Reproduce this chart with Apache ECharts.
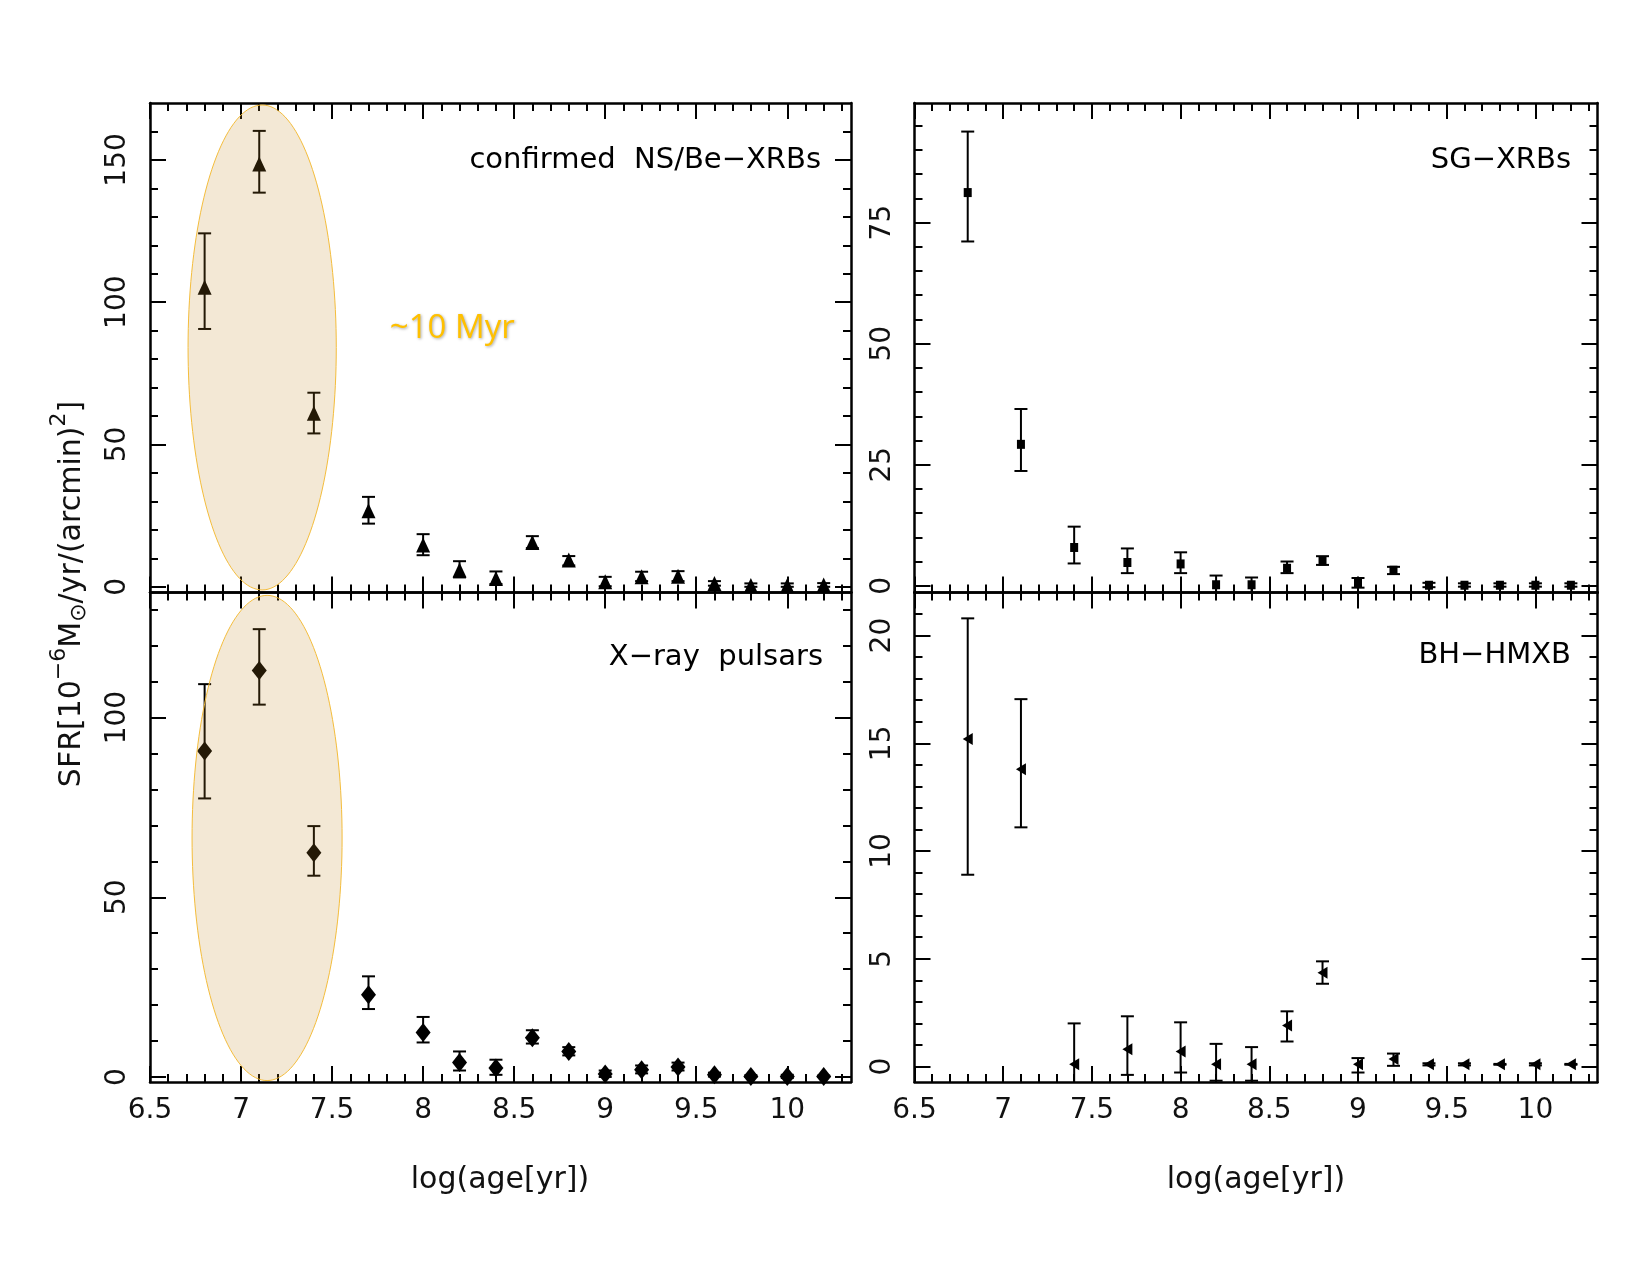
<!DOCTYPE html>
<html><head><meta charset="utf-8">
<script src="https://cdn.jsdelivr.net/npm/echarts@6.0.0/dist/echarts.min.js"></script>
<style>html,body{margin:0;padding:0;background:#fff}#c{width:1650px;height:1275px}</style>
</head><body><div id="c"></div>
<script>
// ---- data ----
const logAge = [6.8, 7.1, 7.4, 7.7, 8.0, 8.2, 8.4, 8.6, 8.8, 9.0, 9.2, 9.4, 9.6, 9.8, 10.0, 10.2];

const nsBeVal = [105.3, 148.6, 61.0, 26.7, 14.7, 5.9, 2.9, 15.6, 9.4, 1.8, 3.5, 3.7, 1.2, 0.5, 0.5, 0.6];
const nsBeHi  = [124.2, 160.2, 68.2, 31.6, 18.5, 9.0, 5.4, 17.8, 10.8, 3.5, 5.3, 5.5, 2.0, 1.2, 1.2, 1.3];
const nsBeLo  = [90.6, 138.5, 53.9, 22.2, 11.1, 3.3, 1.0, 13.6, 7.5, 0.2, 2.0, 2.0, 0.4, 0.0, 0.0, 0.0];

const sgVal = [81.2, 29.2, 7.9, 4.8, 4.5, 0.2, 0.2, 3.6, 5.1, 0.6, 3.2, 0.1, 0.1, 0.1, 0.1, 0.1];
const sgHi  = [93.8, 36.5, 12.2, 7.7, 6.9, 2.1, 1.7, 5.0, 6.1, 1.6, 3.9, 0.6, 0.5, 0.5, 0.5, 0.5];
const sgLo  = [71.1, 23.7, 4.6, 2.6, 2.6, -1.6, -1.6, 2.6, 4.3, -0.4, 2.4, -0.3, -0.2, -0.2, -0.2, -0.2];

const pulsarVal = [90.7, 113.1, 62.4, 22.9, 12.4, 4.0, 2.5, 10.9, 7.1, 0.8, 2.0, 2.8, 0.6, 0.1, 0.1, 0.1];
const pulsarHi  = [109.3, 124.6, 69.8, 28.0, 16.7, 7.1, 4.8, 13.0, 8.3, 1.8, 3.2, 4.0, 1.2, 0.5, 0.6, 0.4];
const pulsarLo  = [77.5, 103.6, 56.0, 18.9, 9.6, 1.8, 0.6, 9.3, 6.0, 0.0, 1.0, 1.8, 0.1, 0.0, -0.3, 0.0];

const bhVal = [15.2, 13.8, 0.1, 0.8, 0.7, 0.1, 0.1, 1.9, 4.35, 0.1, 0.35, 0.1, 0.1, 0.1, 0.1, 0.1];
const bhHi  = [20.8, 17.05, 2.0, 2.33, 2.05, 1.05, 0.9, 2.56, 4.88, 0.39, 0.6, 0.15, 0.15, 0.12, 0.15, 0.12];
const bhLo  = [8.9, 11.1, -1.5, -0.39, -0.28, -0.66, -0.66, 1.16, 3.84, -0.28, 0.03, 0.05, 0.05, 0.08, 0.05, 0.08];

// highlighted ~10 Myr region: [centre x, centre y, half-width x, half-height y] in data units
const ellipseNsBe   = [7.116, 84.1, 0.407, 85.2];
const ellipsePulsar = [7.143, 66.5, 0.412, 67.5];
const annotationPos = [8.16, 90.6];
const annotationText = '~10 Myr';

// ---- ticks ----
const xMajorTicks = [6.5, 7, 7.5, 8, 8.5, 9, 9.5, 10];
const xMinorTicks = [6.6, 6.7, 6.8, 6.9, 7.1, 7.2, 7.3, 7.4, 7.6, 7.7, 7.8, 7.9, 8.1, 8.2, 8.3, 8.4,
                     8.6, 8.7, 8.8, 8.9, 9.1, 9.2, 9.3, 9.4, 9.6, 9.7, 9.8, 9.9, 10.1, 10.2, 10.3];
const yMajorNsBe = [0, 50, 100, 150];
const yMinorNsBe = [10, 20, 30, 40, 60, 70, 80, 90, 110, 120, 130, 140, 160];
const yMajorPulsar = [0, 50, 100];
const yMinorPulsar = [10, 20, 30, 40, 60, 70, 80, 90, 110, 120, 130];
const yMajorSg = [0, 25, 50, 75];
const yMinorSg = [5, 10, 15, 20, 30, 35, 40, 45, 55, 60, 65, 70, 80, 85, 90, 95];
const yMajorBh = [0, 5, 10, 15, 20];
const yMinorBh = [1, 2, 3, 4, 6, 7, 8, 9, 11, 12, 13, 14, 16, 17, 18, 19, 21];

const panelLabels = ['confirmed  NS/Be\u2212XRBs', 'SG\u2212XRBs', 'X\u2212ray  pulsars', 'BH\u2212HMXB'];
const xTitle = 'log(age[yr])';

// ---- layout ----
const FONT = 'DejaVu Sans';
const panels = [
  {grid: {left: 150, top: 103, width: 701, height: 489.5}, yMin: -2, yMax: 170, yMaj: yMajorNsBe, yMin2: yMinorNsBe,
   xLabels: false, sym: 'triangle', size: [14, 15], rot: 0, val: nsBeVal, hi: nsBeHi, lo: nsBeLo, ell: ellipseNsBe},
  {grid: {left: 914.5, top: 103, width: 683, height: 489.5}, yMin: -1.4, yMax: 99.7, yMaj: yMajorSg, yMin2: yMinorSg,
   xLabels: false, sym: 'rect', size: [8, 9], rot: 0, val: sgVal, hi: sgHi, lo: sgLo},
  {grid: {left: 150, top: 592.5, width: 701, height: 489.5}, yMin: -1.4, yMax: 134.8, yMaj: yMajorPulsar, yMin2: yMinorPulsar,
   xLabels: true, sym: 'diamond', size: [15, 19], rot: 0, val: pulsarVal, hi: pulsarHi, lo: pulsarLo, ell: ellipsePulsar},
  {grid: {left: 914.5, top: 592.5, width: 683, height: 489.5}, yMin: -0.72, yMax: 22, yMaj: yMajorBh, yMin2: yMinorBh,
   xLabels: true, sym: 'triangle', size: [12, 10], rot: 90, val: bhVal, hi: bhHi, lo: bhLo}
];

const grids = [], xAxes = [], yAxes = [], series = [];
const lineStyle = {color: '#000', width: 2.5};
const tickStyle = {color: '#000', width: 2};
const labelStyle = {color: '#111', fontFamily: FONT, fontSize: 28};

panels.forEach((p, g) => {
  grids.push(Object.assign({containLabel: false}, p.grid));
  ['bottom', 'top'].forEach(pos => {
    xAxes.push({type: 'value', gridIndex: g, position: pos, min: 6.5, max: 10.35,
      axisLine: {show: true, onZero: false, lineStyle},
      axisTick: {show: true, inside: true, length: 16, customValues: xMajorTicks, lineStyle: tickStyle},
      axisLabel: {show: p.xLabels && pos === 'bottom', customValues: xMajorTicks, margin: 15, ...labelStyle},
      splitLine: {show: false}});
    xAxes.push({type: 'value', gridIndex: g, position: pos, min: 6.5, max: 10.35,
      axisLine: {show: false, onZero: false},
      axisTick: {show: true, inside: true, length: 8, customValues: xMinorTicks, lineStyle: tickStyle},
      axisLabel: {show: false}, splitLine: {show: false}});
  });
  ['left', 'right'].forEach(pos => {
    yAxes.push({type: 'value', gridIndex: g, position: pos, min: p.yMin, max: p.yMax,
      axisLine: {show: true, onZero: false, lineStyle},
      axisTick: {show: true, inside: true, length: 16, customValues: p.yMaj, lineStyle: tickStyle},
      axisLabel: {show: pos === 'left', customValues: p.yMaj, rotate: 90, margin: 18, ...labelStyle},
      splitLine: {show: false}});
    yAxes.push({type: 'value', gridIndex: g, position: pos, min: p.yMin, max: p.yMax,
      axisLine: {show: false, onZero: false},
      axisTick: {show: true, inside: true, length: 8, customValues: p.yMin2, lineStyle: tickStyle},
      axisLabel: {show: false}, splitLine: {show: false}});
  });
  const xi = 4 * g, yi = 4 * g;
  // error bars
  series.push({type: 'custom', xAxisIndex: xi, yAxisIndex: yi, z: 3,
    data: logAge.map((x, i) => [x, p.lo[i], p.hi[i]]),
    renderItem: (params, api) => {
      const x = api.value(0);
      const top = api.coord([x, api.value(2)]);
      const bot = api.coord([x, api.value(1)]);
      const cs = params.coordSys;
      const y1 = Math.max(top[1], cs.y), y2 = Math.min(bot[1], cs.y + cs.height);
      const ch = [{type: 'line', shape: {x1: top[0], y1: y1, x2: top[0], y2: y2}, style: {stroke: '#000', lineWidth: 2}}];
      if (top[1] >= cs.y) ch.push({type: 'line', shape: {x1: top[0] - 6.5, y1: top[1], x2: top[0] + 6.5, y2: top[1]}, style: {stroke: '#000', lineWidth: 2}});
      if (bot[1] <= cs.y + cs.height) ch.push({type: 'line', shape: {x1: bot[0] - 6.5, y1: bot[1], x2: bot[0] + 6.5, y2: bot[1]}, style: {stroke: '#000', lineWidth: 2}});
      return {type: 'group', children: ch};
    }});
  // points
  series.push({type: 'scatter', xAxisIndex: xi, yAxisIndex: yi, z: 4,
    symbol: p.sym, symbolSize: p.size, symbolRotate: p.rot,
    itemStyle: {color: '#000', opacity: 1},
    data: logAge.map((x, i) => [x, p.val[i]])});
  // ellipse highlight
  if (p.ell) {
    series.push({type: 'custom', xAxisIndex: xi, yAxisIndex: yi, z: 6, silent: true,
      data: [p.ell],
      renderItem: (params, api) => {
        const cx = api.value(0), cy = api.value(1), rx = api.value(2), ry = api.value(3);
        const pts = [];
        for (let k = 0; k < 160; k++) {
          const t = 2 * Math.PI * k / 160;
          pts.push(api.coord([cx + rx * Math.cos(t), cy + ry * Math.sin(t)]));
        }
        return {type: 'polygon', shape: {points: pts},
          style: {fill: 'rgba(190,135,30,0.19)', stroke: '#f4bd3c', lineWidth: 1}};
      }});
  }
  if (g === 0) {
    series.push({type: 'custom', xAxisIndex: xi, yAxisIndex: yi, z: 7, silent: true,
      data: [annotationPos],
      renderItem: (params, api) => {
        const c = api.coord([api.value(0), api.value(1)]);
        return {type: 'text', x: c[0], y: c[1],
          style: {text: annotationText, fill: '#ffc000', font: '33px "Open Sans"',
            align: 'center', verticalAlign: 'middle',
            textShadowColor: 'rgba(0,0,0,0.35)', textShadowBlur: 3, textShadowOffsetX: 1, textShadowOffsetY: 1}};
      }});
  }
});

const graphic = [
  {type: 'text', x: 821, y: 160, style: {text: panelLabels[0], font: '29px "DejaVu Sans"', fill: '#000', align: 'right', verticalAlign: 'middle'}},
  {type: 'text', x: 1571, y: 160, style: {text: panelLabels[1], font: '29px "DejaVu Sans"', fill: '#000', align: 'right', verticalAlign: 'middle'}},
  {type: 'text', x: 823, y: 657, style: {text: panelLabels[2], font: '29px "DejaVu Sans"', fill: '#000', align: 'right', verticalAlign: 'middle'}},
  {type: 'text', x: 1571, y: 655, style: {text: panelLabels[3], font: '29px "DejaVu Sans"', fill: '#000', align: 'right', verticalAlign: 'middle'}},
  {type: 'text', x: 500, y: 1180, style: {text: xTitle, font: '30px "DejaVu Sans"', fill: '#111', align: 'center', verticalAlign: 'middle'}},
  {type: 'text', x: 1256, y: 1180, style: {text: xTitle, font: '30px "DejaVu Sans"', fill: '#111', align: 'center', verticalAlign: 'middle'}},
  {type: 'text', x: 72, y: 594, rotation: Math.PI / 2,
    style: {text: '{n|SFR[10}{sup|\u22126}{n|M}{sub|\u2299}{n|/yr/(arcmin)}{sup|2}{n|]}',
      align: 'center', verticalAlign: 'middle', fill: '#111',
      rich: {
        n: {fontFamily: FONT, fontSize: 30, fill: '#111', lineHeight: 40},
        sup: {fontFamily: FONT, fontSize: 22, fill: '#111', lineHeight: 40, padding: [0, 0, 26, 0]},
        sub: {fontFamily: FONT, fontSize: 22, fill: '#111', lineHeight: 40, padding: [14, 0, 0, 0]}
      }}}
];

const chart = echarts.init(document.getElementById('c'), null, {renderer: 'canvas'});
chart.setOption({
  backgroundColor: '#fff',
  animation: false,
  grid: grids, xAxis: xAxes, yAxis: yAxes, series: series, graphic: graphic
});
</script>
</body></html>
